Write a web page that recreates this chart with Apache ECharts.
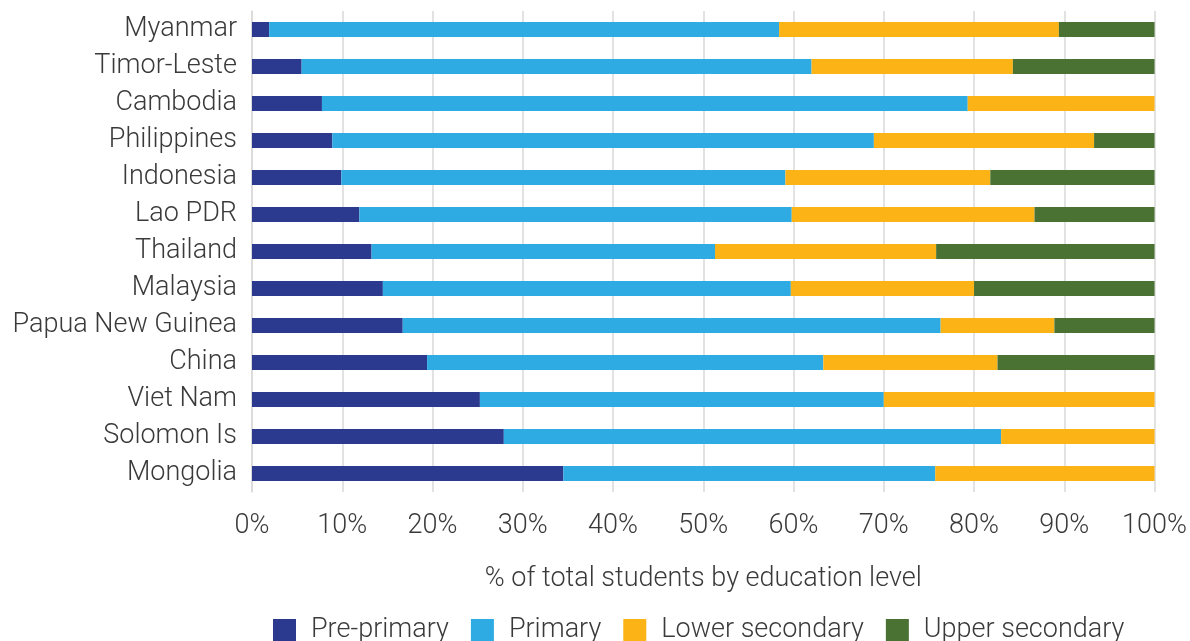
<!DOCTYPE html>
<html><head><meta charset="utf-8">
<script src="https://cdn.jsdelivr.net/npm/echarts@6/dist/echarts.min.js"></script>
<style>html,body{margin:0;padding:0;background:#fff}#c{width:1190px;height:641px}</style>
</head><body><div id="c"></div>
<script>
const categories = ["Myanmar","Timor-Leste","Cambodia","Philippines","Indonesia","Lao PDR","Thailand","Malaysia","Papua New Guinea","China","Viet Nam","Solomon Is","Mongolia"];
const prePrimary = [1.9, 5.5, 7.75, 8.9, 9.9, 11.9, 13.25, 14.5, 16.7, 19.4, 25.25, 27.9, 34.5];
const primary = [56.5, 56.5, 71.55, 60.0, 49.2, 47.9, 38.05, 45.2, 59.6, 43.9, 44.75, 55.1, 41.2];
const lowerSecondary = [31.0, 22.3, 20.7, 24.4, 22.7, 26.9, 24.5, 20.3, 12.6, 19.3, 30.0, 17.0, 24.3];
const upperSecondary = [10.6, 15.7, 0, 6.7, 18.2, 13.3, 24.2, 20.0, 11.1, 17.4, 0, 0, 0];
const seriesNames = ["Pre-primary","Primary","Lower secondary","Upper secondary"];
const colors = ["#2B3A8F","#2DABE2","#FBB316","#4A7233"];
const axisTitle = "% of total students by education level";

const font = "Roboto, 'Liberation Sans', sans-serif";
const textColor = "#3a3a3a";
const fs = 27;
const chart = echarts.init(document.getElementById('c'));
const dataSets = [prePrimary, primary, lowerSecondary, upperSecondary];
chart.setOption({
  animation: false,
  textStyle: {fontFamily: font},
  grid: {left: 252, right: 35, top: 11, bottom: 149, containLabel: false},
  legend: {
    top: 617, left: 273, itemWidth: 23, itemHeight: 23, itemGap: 22,
    icon: 'rect', padding: 0,
    formatter: name => '{t|' + name + '}',
    textStyle: {
      fontSize: fs, color: textColor, fontFamily: font, fontWeight: 300,
      rich: {t: {fontSize: fs, color: textColor, fontFamily: font, fontWeight: 300, padding: [0, 0, 0, 10]}}
    },
    data: seriesNames
  },
  xAxis: {
    type: 'value', min: 0, max: 100, interval: 10,
    axisLabel: {formatter: '{value}%', fontSize: fs, color: textColor, margin: 21, fontWeight: 300},
    splitLine: {show: true, lineStyle: {color: '#d9d9d9', width: 1.5}},
    axisLine: {show: false}, axisTick: {show: false},
    name: axisTitle, nameLocation: 'middle', nameGap: 74,
    nameTextStyle: {fontSize: fs, color: textColor, fontWeight: 300}
  },
  yAxis: {
    type: 'category', data: categories, inverse: true,
    axisLabel: {fontSize: fs, color: textColor, margin: 15, fontWeight: 300},
    axisLine: {show: true, lineStyle: {color: '#d9d9d9', width: 1.5}},
    axisTick: {show: false}
  },
  series: seriesNames.map((n, i) => ({
    name: n, type: 'bar', stack: 'total', barWidth: 15,
    itemStyle: {color: colors[i]},
    data: dataSets[i]
  }))
});
</script></body></html>
